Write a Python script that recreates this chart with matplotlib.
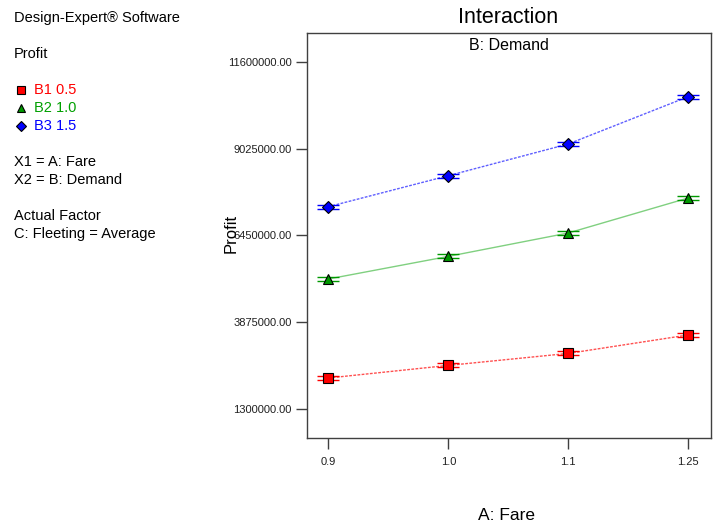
import matplotlib
matplotlib.use("Agg")
import matplotlib.pyplot as plt

plt.rcParams['font.family'] = ['Liberation Sans', 'DejaVu Sans']

fare_labels = ["0.9", "1.0", "1.1", "1.25"]
b1_profit = [2220000, 2594000, 2950000, 3497000]
b2_profit = [5159000, 5830000, 6524000, 7563000]
b3_profit = [7305000, 8225000, 9166000, 10570000]
lsd_half = [60000, 60000, 60000, 60000]
y_ticks = [1300000, 3875000, 6450000, 9025000, 11600000]

series = [
    ("B1 0.5", b1_profit, "s", "#ff0000", "#ff5050", "#ff0000", (0, (2, 1))),
    ("B2 1.0", b2_profit, "^", "#009900", "#80d080", "#00a000", "-"),
    ("B3 1.5", b3_profit, "D", "#0000ff", "#6060ff", "#0000ff", (0, (2, 1))),
]

fig = plt.figure(figsize=(7.17, 5.28), dpi=100)
ax = fig.add_axes([0.428, 0.1705, 0.5636, 0.767])

xs = list(range(len(fare_labels)))
for name, vals, mk, fill, linec, txtc, ls in series:
    ax.plot(xs, vals, color=linec, lw=1, linestyle=ls, zorder=2)
    ax.errorbar(xs, vals, yerr=lsd_half, fmt="none", ecolor=fill, elinewidth=1,
                capsize=8, capthick=1, zorder=3)
    ax.plot(xs, vals, linestyle="none", marker=mk, markersize=7 if mk != "D" else 6,
            markerfacecolor=fill, markeredgecolor="black", markeredgewidth=0.8, zorder=4)

ax.set_xlim(-0.18, 3.19)
ax.set_ylim(440000, 12460000)
ax.set_xticks(xs)
ax.set_xticklabels(fare_labels)
ax.set_yticks(y_ticks)
ax.set_yticklabels(["%.2f" % v for v in y_ticks])
ax.tick_params(axis="both", labelsize=8, length=8, width=1, color="#404040",
               labelcolor="#202020", pad=3)
ax.tick_params(axis="x", pad=6)
for sp in ax.spines.values():
    sp.set_color("#404040")
    sp.set_linewidth(1)

ax.text(0.5, 0.987, "B: Demand", transform=ax.transAxes, ha="center", va="top", fontsize=11.5)
fig.text(0.709, 0.966, "Interaction", ha="center", va="center", fontsize=15.5)
fig.text(0.707, 0.024, "A: Fare", ha="center", va="center", fontsize=12.5)
fig.text(0.322, 0.557, "Profit", ha="center", va="center", rotation=90, fontsize=12)

# side panel
fig.text(0.0195, 0.966, "Design-Expert\u00ae Software", va="center", fontsize=10.5)
fig.text(0.0195, 0.898, "Profit", va="center", fontsize=10.5)
for i, (name, vals, mk, fill, linec, txtc, ls) in enumerate(series):
    yy = 0.830 - i * 0.034
    fig.lines.append(plt.Line2D([0.029], [yy], transform=fig.transFigure, marker=mk,
                                markersize=5.5 if mk != "D" else 5, markerfacecolor=fill,
                                markeredgecolor="black", markeredgewidth=0.8, linestyle="none"))
    fig.text(0.047, yy, name, va="center", fontsize=10.5, color=txtc)
fig.text(0.0195, 0.693, "X1 = A: Fare", va="center", fontsize=10.5)
fig.text(0.0195, 0.659, "X2 = B: Demand", va="center", fontsize=10.5)
fig.text(0.0195, 0.591, "Actual Factor", va="center", fontsize=10.5)
fig.text(0.0195, 0.557, "C: Fleeting = Average", va="center", fontsize=10.5)

fig.savefig("out.png", dpi=100)
